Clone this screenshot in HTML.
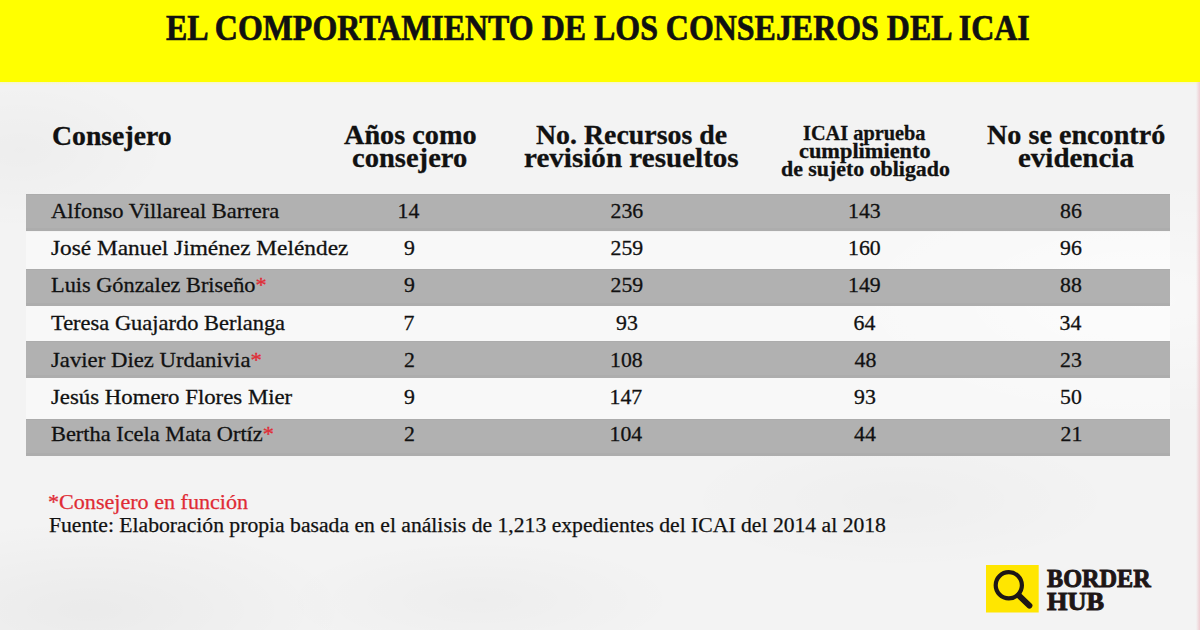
<!DOCTYPE html>
<html><head><meta charset="utf-8">
<style>
html,body{margin:0;padding:0;}
body{width:1200px;height:630px;overflow:hidden;position:relative;background:#f3f3f3;font-family:"Liberation Serif",serif;color:#111;}
.hdr{position:absolute;left:0;top:0;width:1200px;height:82px;background:#ffff00;}
.t{position:absolute;white-space:nowrap;line-height:1;transform-origin:0 0;}
.row{position:absolute;left:26px;width:1144px;height:37px;}
.g{background:#b1b1b1;box-shadow:inset 0 1px 0 #acacac,inset 0 -3px 0 #adadad;}
.w{background:rgba(255,255,255,0.45);}
.logo{position:absolute;left:985.7px;top:564.9px;width:54px;height:49px;}
.logo svg{display:block;}
.bg{position:absolute;left:0;top:0;width:1200px;height:630px;background:
radial-gradient(ellipse 260px 90px at 90px 610px, rgba(0,0,0,0.035), rgba(0,0,0,0) 100%),
radial-gradient(ellipse 200px 60px at 480px 600px, rgba(0,0,0,0.025), rgba(0,0,0,0) 100%),
radial-gradient(ellipse 220px 70px at 900px 500px, rgba(0,0,0,0.02), rgba(0,0,0,0) 100%),
radial-gradient(ellipse 300px 120px at 1150px 300px, rgba(255,255,255,0.5), rgba(255,255,255,0) 100%),
radial-gradient(ellipse 150px 80px at 20px 150px, rgba(0,0,0,0.025), rgba(0,0,0,0) 100%),
#f3f3f3;}
.hfade{position:absolute;left:0;top:82px;width:1200px;height:3px;background:linear-gradient(to bottom,rgba(255,255,120,0.35),rgba(255,255,255,0));}
.redge{position:absolute;right:0;top:82px;width:4px;height:548px;background:linear-gradient(to right,rgba(240,205,210,0),rgba(238,202,207,0.95));}
</style></head><body>
<div class="bg"></div>
<div class="hdr"></div>
<div class="hfade"></div>
<div class="redge"></div>
<div class="row g" style="top:194.4px;height:37.1px"></div>
<div class="row w" style="top:231.5px;height:37.4px"></div>
<div class="row g" style="top:268.9px;height:36.8px"></div>
<div class="row w" style="top:305.7px;height:35.3px"></div>
<div class="row g" style="top:341.0px;height:36.7px"></div>
<div class="row w" style="top:377.7px;height:41.1px"></div>
<div class="row g" style="top:418.8px;height:37.0px"></div>
<div class="logo"><svg width="54" height="49" viewBox="0 0 54 49"><rect x="0" y="0" width="52.7" height="47.5" fill="#ffe600"/><circle cx="22.8" cy="20.3" r="13.1" fill="none" stroke="#1e1616" stroke-width="4.2"/><line x1="33" y1="30.6" x2="43.4" y2="40.6" stroke="#1e1616" stroke-width="6" stroke-linecap="round"/></svg></div>
<div class="t" id="title" style="left:166.10px;top:10.72px;font-size:35.50px;font-weight:bold;color:#111;-webkit-text-stroke:0.70px #111;transform:scaleX(0.8996);">EL COMPORTAMIENTO DE LOS CONSEJEROS DEL ICAI</div>
<div class="t" id="h1" style="left:52.41px;top:121.60px;font-size:28.00px;font-weight:bold;color:#111;-webkit-text-stroke:0.30px #111;transform:scaleX(0.9901);">Consejero</div>
<div class="t" id="h2a" style="left:344.00px;top:121.01px;font-size:28.00px;font-weight:bold;color:#111;-webkit-text-stroke:0.30px #111;transform:scaleX(1.0086);">Años como</div>
<div class="t" id="h2b" style="left:352.11px;top:144.31px;font-size:28.00px;font-weight:bold;color:#111;-webkit-text-stroke:0.30px #111;transform:scaleX(1.0199);">consejero</div>
<div class="t" id="h3a" style="left:535.99px;top:121.41px;font-size:28.00px;font-weight:bold;color:#111;-webkit-text-stroke:0.30px #111;transform:scaleX(0.9948);">No. Recursos de</div>
<div class="t" id="h3b" style="left:523.96px;top:144.01px;font-size:28.00px;font-weight:bold;color:#111;-webkit-text-stroke:0.30px #111;transform:scaleX(1.0390);">revisión resueltos</div>
<div class="t" id="h4a" style="left:803.01px;top:122.51px;font-size:21.20px;font-weight:bold;color:#111;-webkit-text-stroke:0.30px #111;transform:scaleX(0.9586);">ICAI aprueba</div>
<div class="t" id="h4b" style="left:798.94px;top:140.71px;font-size:21.20px;font-weight:bold;color:#111;-webkit-text-stroke:0.30px #111;transform:scaleX(1.0551);">cumplimiento</div>
<div class="t" id="h4c" style="left:781.18px;top:159.01px;font-size:21.20px;font-weight:bold;color:#111;-webkit-text-stroke:0.30px #111;transform:scaleX(1.0318);">de sujeto obligado</div>
<div class="t" id="h5a" style="left:986.79px;top:121.10px;font-size:28.00px;font-weight:bold;color:#111;-webkit-text-stroke:0.30px #111;transform:scaleX(1.0058);">No se encontró</div>
<div class="t" id="h5b" style="left:1018.05px;top:144.41px;font-size:28.00px;font-weight:bold;color:#111;-webkit-text-stroke:0.30px #111;transform:scaleX(1.0346);">evidencia</div>
<div class="t" id="f1" style="left:48.11px;top:492.01px;font-size:20.80px;font-weight:normal;color:#e02b35;-webkit-text-stroke:0.25px #e02b35;transform:scaleX(1.0627);">*Consejero en función</div>
<div class="t" id="logo1" style="left:1047.20px;top:566.61px;font-size:24.20px;font-weight:bold;color:#1e1616;-webkit-text-stroke:0.90px #1e1616;transform:scaleX(1.0021);">BORDER</div>
<div class="t" id="logo2" style="left:1046.59px;top:590.11px;font-size:24.20px;font-weight:bold;color:#1e1616;-webkit-text-stroke:0.90px #1e1616;transform:scaleX(1.0889);">HUB</div>
<div class="t" id="f2" style="left:49.11px;top:514.72px;font-size:20.80px;font-weight:normal;color:#111;-webkit-text-stroke:0.25px #111;transform:scaleX(1.0411);">Fuente: Elaboración propia basada en el análisis de 1,213 expedientes del ICAI del 2014 al 2018</div>
<div class="t" id="n0" style="left:50.57px;top:201.01px;font-size:21.80px;font-weight:normal;color:#111;-webkit-text-stroke:0.30px #111;transform:scaleX(1.0328);">Alfonso Villareal Barrera</div>
<div class="t" id="n1" style="left:50.54px;top:238.22px;font-size:21.80px;font-weight:normal;color:#111;-webkit-text-stroke:0.30px #111;transform:scaleX(1.0703);">José Manuel Jiménez Meléndez</div>
<div class="t" id="n2" style="left:50.58px;top:275.41px;font-size:21.80px;font-weight:normal;color:#111;-webkit-text-stroke:0.30px #111;transform:scaleX(1.0236);">Luis Gónzalez Briseño<span style="color:#e02b35;-webkit-text-stroke-color:#e02b35">*</span></div>
<div class="t" id="n3" style="left:50.57px;top:312.60px;font-size:21.80px;font-weight:normal;color:#111;-webkit-text-stroke:0.30px #111;transform:scaleX(1.0302);">Teresa Guajardo Berlanga</div>
<div class="t" id="n4" style="left:50.55px;top:349.80px;font-size:21.80px;font-weight:normal;color:#111;-webkit-text-stroke:0.30px #111;transform:scaleX(1.0431);">Javier Diez Urdanivia<span style="color:#e02b35;-webkit-text-stroke-color:#e02b35">*</span></div>
<div class="t" id="n5" style="left:50.56px;top:387.01px;font-size:21.80px;font-weight:normal;color:#111;-webkit-text-stroke:0.30px #111;transform:scaleX(1.0457);">Jesús Homero Flores Mier</div>
<div class="t" id="n6" style="left:50.56px;top:424.22px;font-size:21.80px;font-weight:normal;color:#111;-webkit-text-stroke:0.30px #111;transform:scaleX(1.0261);">Bertha Icela Mata Ortíz<span style="color:#e02b35;-webkit-text-stroke-color:#e02b35">*</span></div>
<div class="t" id="d0_0" style="left:397.50px;top:201.01px;font-size:21.80px;font-weight:normal;color:#111;-webkit-text-stroke:0.30px #111;">14</div>
<div class="t" id="d0_1" style="left:610.50px;top:201.01px;font-size:21.80px;font-weight:normal;color:#111;-webkit-text-stroke:0.30px #111;">236</div>
<div class="t" id="d0_2" style="left:848.00px;top:201.01px;font-size:21.80px;font-weight:normal;color:#111;-webkit-text-stroke:0.30px #111;">143</div>
<div class="t" id="d0_3" style="left:1060.00px;top:201.01px;font-size:21.80px;font-weight:normal;color:#111;-webkit-text-stroke:0.30px #111;">86</div>
<div class="t" id="d1_0" style="left:404.00px;top:238.22px;font-size:21.80px;font-weight:normal;color:#111;-webkit-text-stroke:0.30px #111;">9</div>
<div class="t" id="d1_1" style="left:610.50px;top:238.22px;font-size:21.80px;font-weight:normal;color:#111;-webkit-text-stroke:0.30px #111;">259</div>
<div class="t" id="d1_2" style="left:848.00px;top:238.22px;font-size:21.80px;font-weight:normal;color:#111;-webkit-text-stroke:0.30px #111;">160</div>
<div class="t" id="d1_3" style="left:1060.00px;top:238.22px;font-size:21.80px;font-weight:normal;color:#111;-webkit-text-stroke:0.30px #111;">96</div>
<div class="t" id="d2_0" style="left:404.00px;top:275.41px;font-size:21.80px;font-weight:normal;color:#111;-webkit-text-stroke:0.30px #111;">9</div>
<div class="t" id="d2_1" style="left:610.50px;top:275.41px;font-size:21.80px;font-weight:normal;color:#111;-webkit-text-stroke:0.30px #111;">259</div>
<div class="t" id="d2_2" style="left:848.00px;top:275.41px;font-size:21.80px;font-weight:normal;color:#111;-webkit-text-stroke:0.30px #111;">149</div>
<div class="t" id="d2_3" style="left:1060.00px;top:275.41px;font-size:21.80px;font-weight:normal;color:#111;-webkit-text-stroke:0.30px #111;">88</div>
<div class="t" id="d3_0" style="left:403.50px;top:312.60px;font-size:21.80px;font-weight:normal;color:#111;-webkit-text-stroke:0.30px #111;">7</div>
<div class="t" id="d3_1" style="left:616.00px;top:312.60px;font-size:21.80px;font-weight:normal;color:#111;-webkit-text-stroke:0.30px #111;">93</div>
<div class="t" id="d3_2" style="left:853.50px;top:312.60px;font-size:21.80px;font-weight:normal;color:#111;-webkit-text-stroke:0.30px #111;">64</div>
<div class="t" id="d3_3" style="left:1059.50px;top:312.60px;font-size:21.80px;font-weight:normal;color:#111;-webkit-text-stroke:0.30px #111;">34</div>
<div class="t" id="d4_0" style="left:404.00px;top:349.80px;font-size:21.80px;font-weight:normal;color:#111;-webkit-text-stroke:0.30px #111;">2</div>
<div class="t" id="d4_1" style="left:610.00px;top:349.80px;font-size:21.80px;font-weight:normal;color:#111;-webkit-text-stroke:0.30px #111;">108</div>
<div class="t" id="d4_2" style="left:854.50px;top:349.80px;font-size:21.80px;font-weight:normal;color:#111;-webkit-text-stroke:0.30px #111;">48</div>
<div class="t" id="d4_3" style="left:1060.00px;top:349.80px;font-size:21.80px;font-weight:normal;color:#111;-webkit-text-stroke:0.30px #111;">23</div>
<div class="t" id="d5_0" style="left:404.00px;top:387.01px;font-size:21.80px;font-weight:normal;color:#111;-webkit-text-stroke:0.30px #111;">9</div>
<div class="t" id="d5_1" style="left:609.50px;top:387.01px;font-size:21.80px;font-weight:normal;color:#111;-webkit-text-stroke:0.30px #111;">147</div>
<div class="t" id="d5_2" style="left:854.00px;top:387.01px;font-size:21.80px;font-weight:normal;color:#111;-webkit-text-stroke:0.30px #111;">93</div>
<div class="t" id="d5_3" style="left:1060.00px;top:387.01px;font-size:21.80px;font-weight:normal;color:#111;-webkit-text-stroke:0.30px #111;">50</div>
<div class="t" id="d6_0" style="left:404.00px;top:424.22px;font-size:21.80px;font-weight:normal;color:#111;-webkit-text-stroke:0.30px #111;">2</div>
<div class="t" id="d6_1" style="left:609.50px;top:424.22px;font-size:21.80px;font-weight:normal;color:#111;-webkit-text-stroke:0.30px #111;">104</div>
<div class="t" id="d6_2" style="left:854.00px;top:424.22px;font-size:21.80px;font-weight:normal;color:#111;-webkit-text-stroke:0.30px #111;">44</div>
<div class="t" id="d6_3" style="left:1060.50px;top:424.22px;font-size:21.80px;font-weight:normal;color:#111;-webkit-text-stroke:0.30px #111;">21</div>
</body></html>
